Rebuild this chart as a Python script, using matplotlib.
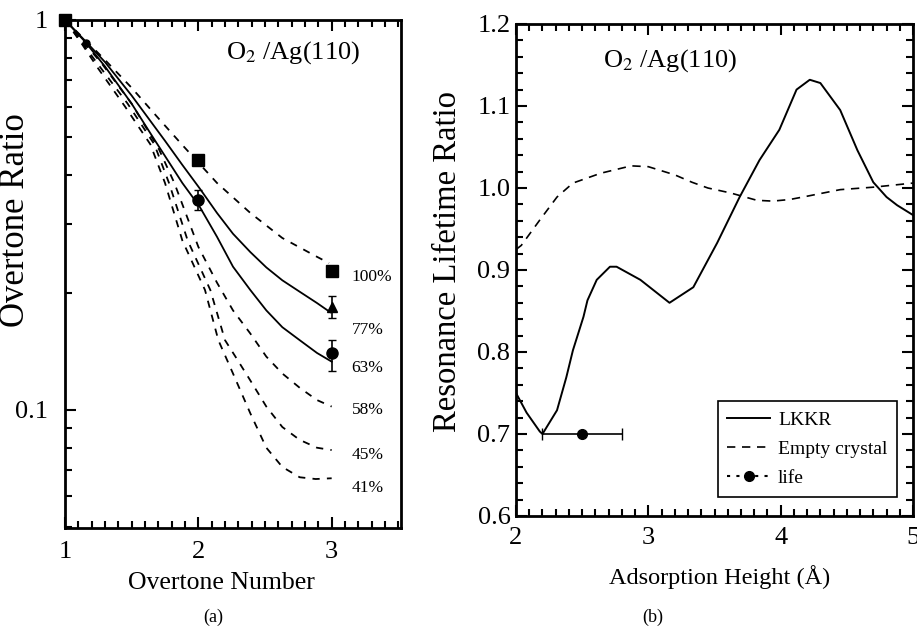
import matplotlib
matplotlib.use("Agg")
import matplotlib.pyplot as plt
from matplotlib.ticker import (MultipleLocator, LogLocator, NullFormatter, FixedLocator,
                               FixedFormatter, FormatStrFormatter)

plt.rcParams['font.family'] = ['Liberation Serif', 'DejaVu Serif']
plt.rcParams['mathtext.fontset'] = 'stix'

# ---- panel (a): overtone ratio vs overtone number ----
c100_x = [1.0, 1.15, 1.3, 1.5, 1.7, 1.88, 2.14, 2.39, 2.63, 2.89, 2.98]
c100_y = [1.0, 0.89, 0.79, 0.67, 0.56, 0.478, 0.382, 0.320, 0.276, 0.247, 0.238]
c77_x = [1.0, 1.15, 1.3, 1.5, 1.75, 1.88, 2.01, 2.14, 2.26, 2.39, 2.51, 2.63, 2.76, 2.89, 2.99]
c77_y = [1.0, 0.885, 0.78, 0.64, 0.49, 0.425, 0.37, 0.32, 0.283, 0.254, 0.232, 0.215, 0.201, 0.188, 0.178]
c63_x = [1.0, 1.15, 1.3, 1.5, 1.66, 1.88, 2.01, 2.14, 2.26, 2.39, 2.51, 2.63, 2.76, 2.89, 3.0]
c63_y = [1.0, 0.88, 0.76, 0.61, 0.50, 0.382, 0.332, 0.278, 0.233, 0.203, 0.180, 0.163, 0.151, 0.140, 0.133]
c58_x = [1.0, 1.13, 1.28, 1.5, 1.7, 1.82, 2.0, 2.14, 2.26, 2.39, 2.51, 2.63, 2.76, 2.89, 3.0]
c58_y = [1.0, 0.885, 0.77, 0.61, 0.47, 0.382, 0.262, 0.212, 0.180, 0.157, 0.137, 0.124, 0.114, 0.106, 0.102]
c45_x = [1.0, 1.12, 1.26, 1.47, 1.67, 1.78, 1.92, 2.09, 2.2, 2.29, 2.39, 2.51, 2.63, 2.76, 2.89, 3.0]
c45_y = [1.0, 0.88, 0.76, 0.61, 0.48, 0.382, 0.272, 0.203, 0.151, 0.135, 0.119, 0.102, 0.0904, 0.0838, 0.080, 0.0789]
c41_x = [1.0, 1.12, 1.25, 1.45, 1.64, 1.75, 1.88, 2.05, 2.15, 2.26, 2.39, 2.51, 2.63, 2.76, 2.88, 3.0]
c41_y = [1.0, 0.875, 0.75, 0.60, 0.48, 0.382, 0.272, 0.203, 0.151, 0.124, 0.098, 0.080, 0.0714, 0.0672, 0.0665, 0.0668]

sq_x = [1, 2, 3]
sq_y = [1.0, 0.437, 0.227]
circ_x = [1.16, 2, 3]
circ_y = [0.873, 0.345, 0.140]
circ_err_lo = [0.0, 0.02, 0.014]
circ_err_hi = [0.0, 0.021, 0.011]
tri_x = [3]
tri_y = [0.184]
tri_err = [0.012]

pct_labels = ['100%', '77%', '63%', '58%', '45%', '41%']
pct_y = [0.219, 0.160, 0.128, 0.100, 0.0767, 0.063]

# ---- panel (b): lifetime ratio vs adsorption height ----
lkkr_x = [2.0, 2.08, 2.18, 2.2, 2.31, 2.38, 2.43, 2.51, 2.54, 2.61, 2.71, 2.76, 2.94, 3.16, 3.34,
          3.52, 3.69, 3.84, 3.99, 4.12, 4.22, 4.30, 4.45, 4.58, 4.70, 4.80, 4.88, 4.98, 5.0]
lkkr_y = [0.75, 0.726, 0.703, 0.70, 0.729, 0.769, 0.802, 0.843, 0.863, 0.888, 0.904, 0.904, 0.888, 0.86, 0.879,
          0.933, 0.989, 1.034, 1.071, 1.12, 1.132, 1.128, 1.095, 1.046, 1.007, 0.989, 0.979, 0.969, 0.967]
ec_x = [2.0, 2.04, 2.18, 2.31, 2.43, 2.64, 2.87, 3.0, 3.2, 3.33, 3.45, 3.62, 3.82, 3.94, 4.07, 4.20, 4.45, 4.70, 5.0]
ec_y = [0.925, 0.930, 0.961, 0.989, 1.006, 1.018, 1.027, 1.026, 1.016, 1.007, 1.0, 0.994, 0.985, 0.984, 0.986,
        0.99, 0.998, 1.001, 1.006]
life_x = [2.5]
life_y = [0.70]
life_xerr = [0.3]

fig = plt.figure(figsize=(9.17, 6.27), dpi=100)
W, H = 917, 627


def px_axes(x0, y0, x1, y1):
    return fig.add_axes([x0 / W, 1 - y1 / H, (x1 - x0) / W, (y1 - y0) / H])


# panel (a)
ax = px_axes(65, 20, 401, 528)
ax.set_yscale('log')
ax.set_xlim(1, 3.52)
ax.set_ylim(0.0498, 1.0)
dash = (0, (4, 4))
lw = 1.3
ax.plot(c100_x, c100_y, color='black', lw=lw, ls=dash)
ax.plot(c77_x, c77_y, color='black', lw=lw)
ax.plot(c63_x, c63_y, color='black', lw=lw)
ax.plot(c58_x, c58_y, color='black', lw=lw, ls=dash)
ax.plot(c45_x, c45_y, color='black', lw=lw, ls=dash)
ax.plot(c41_x, c41_y, color='black', lw=lw, ls=dash)
ax.plot(sq_x, sq_y, 's', color='black', ms=9, clip_on=False, zorder=5)
ax.errorbar(circ_x[1:], circ_y[1:], yerr=[circ_err_lo[1:], circ_err_hi[1:]], fmt='o', color='black',
            ms=8, capsize=3, elinewidth=1.2, zorder=5)
ax.plot(circ_x[:1], circ_y[:1], 'o', color='black', ms=5, zorder=5)
ax.errorbar(tri_x, tri_y, yerr=tri_err, fmt='^', color='black', ms=7, capsize=3, elinewidth=1.2, zorder=5)
for lab, yv in zip(pct_labels, pct_y):
    ax.text(3.15, yv, lab, fontsize=12.5, va='center', ha='left')
ax.text(2.21, 0.823, 'O$_2$ /Ag(110)', fontsize=19, va='center', ha='left')

ax.xaxis.set_major_locator(FixedLocator([1, 2, 3]))
ax.xaxis.set_minor_locator(MultipleLocator(0.1))
ax.yaxis.set_major_locator(FixedLocator([0.1, 1.0]))
ax.yaxis.set_major_formatter(FixedFormatter(['0.1', '1']))
ax.yaxis.set_minor_locator(LogLocator(base=10, subs=range(2, 10)))
ax.yaxis.set_minor_formatter(NullFormatter())
ax.tick_params(which='both', direction='in', top=True, right=False, width=1.5)
ax.tick_params(which='major', length=8, labelsize=19)
ax.tick_params(which='minor', length=5)
ax.tick_params(axis='x', which='major', pad=9)
ax.tick_params(axis='y', which='major', pad=12)
for s in ax.spines.values():
    s.set_linewidth(2)
ax.set_xlabel('Overtone Number', fontsize=18.5)
ax.set_ylabel('Overtone Ratio', fontsize=25)
ax.xaxis.set_label_coords(0.466, -0.087)
ax.yaxis.set_label_coords(-0.098, 0.606)

# panel (b)
bx = px_axes(516, 24, 913, 516)
bx.set_xlim(2, 5)
bx.set_ylim(0.6, 1.2)
bx.plot(lkkr_x, lkkr_y, color='black', lw=1.4, label='LKKR')
bx.plot(ec_x, ec_y, color='black', lw=1.2, ls=(0, (5, 4)), label='Empty crystal')
bx.errorbar(life_x, life_y, xerr=life_xerr, fmt='o', color='black', ms=7, capsize=4,
            elinewidth=1.2, zorder=5)
bx.plot([], [], color='black', ls=(0, (1.5, 3)), marker='o', ms=7, label='life')
bx.text(2.66, 1.156, 'O$_2$ /Ag(110)', fontsize=19, va='center', ha='left')

bx.xaxis.set_major_locator(MultipleLocator(1))
bx.xaxis.set_minor_locator(MultipleLocator(0.1))
bx.yaxis.set_major_locator(MultipleLocator(0.1))
bx.yaxis.set_minor_locator(MultipleLocator(0.02))
bx.yaxis.set_major_formatter(FormatStrFormatter('%.1f'))
bx.tick_params(which='both', direction='in', top=True, right=True, width=1.5)
bx.tick_params(which='major', length=8, labelsize=19)
bx.tick_params(which='minor', length=5)
bx.tick_params(axis='y', which='major', pad=4)
bx.tick_params(axis='x', which='major', pad=8)
for s in bx.spines.values():
    s.set_linewidth(2)
bx.set_xlabel('Adsorption Height (Å)', fontsize=17.5)
bx.set_ylabel('Resonance Lifetime Ratio', fontsize=23.5)
bx.xaxis.set_label_coords(0.514, -0.1)
bx.yaxis.set_label_coords(-0.134, 0.518)
leg = bx.legend(loc='lower right', bbox_to_anchor=(0.96, 0.039), borderaxespad=0, fontsize=14,
                fancybox=False, edgecolor='black', framealpha=1, handlelength=2.2, borderpad=0.5,
                labelspacing=0.6, handletextpad=0.4)
leg.get_frame().set_linewidth(1.2)

fig.text(213 / W, 1 - 617 / H, '(a)', fontsize=13, ha='center', va='center')
fig.text(653 / W, 1 - 617 / H, '(b)', fontsize=13, ha='center', va='center')

fig.savefig('out.png', dpi=100)
